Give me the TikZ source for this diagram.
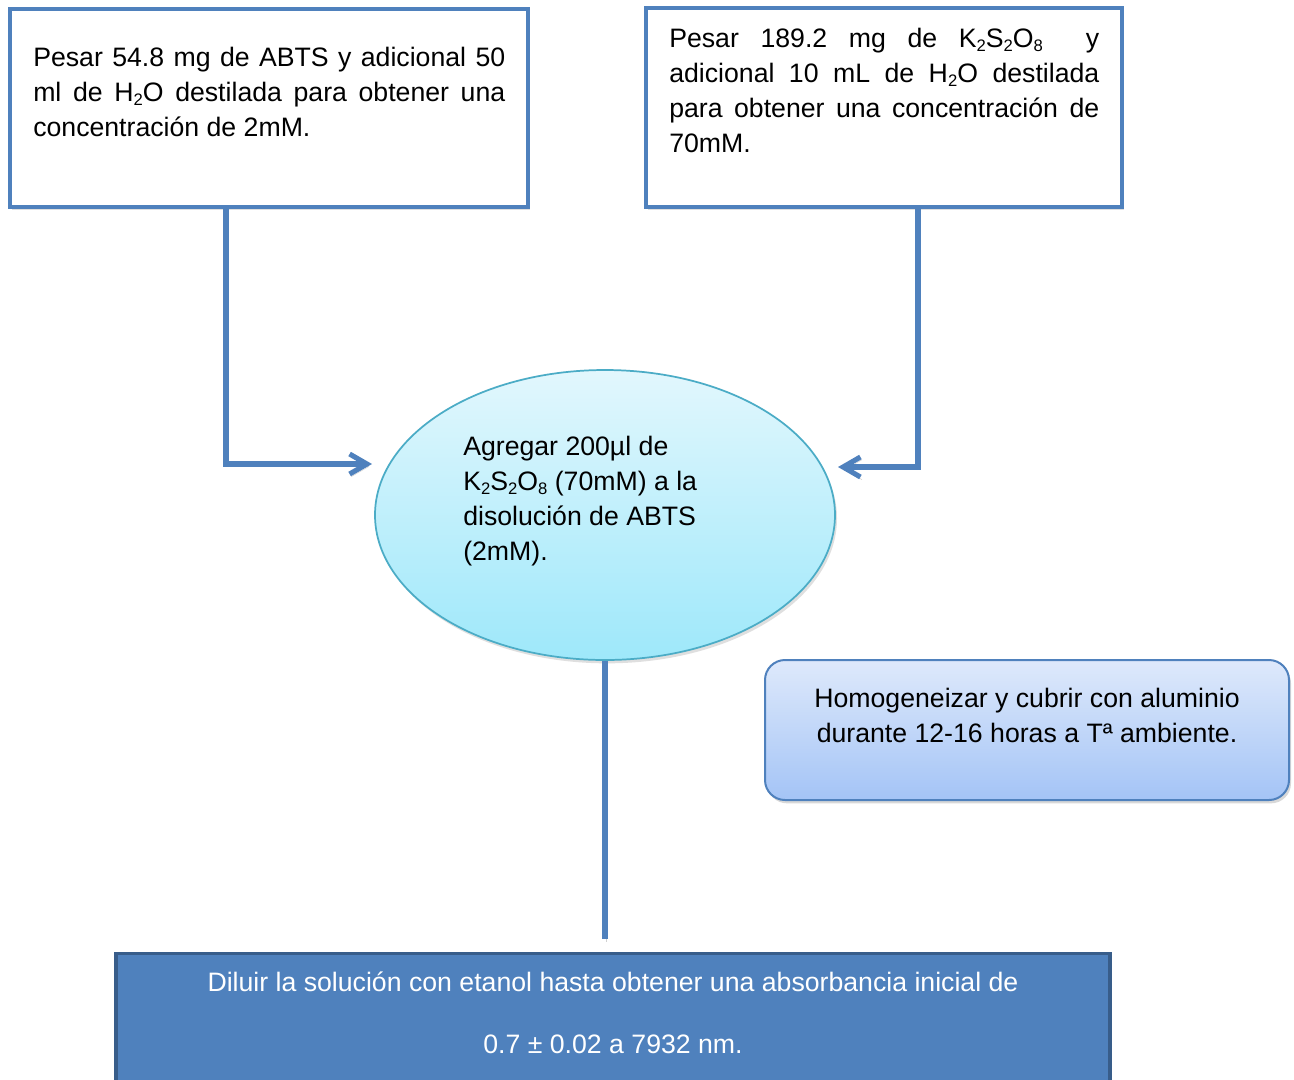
\documentclass[tikz,border=0pt]{standalone}
\usepackage{fontspec}
\setmainfont{Liberation Sans}
\usetikzlibrary{arrows.meta,shadows,calc,shapes.geometric}
\definecolor{bordblue}{RGB}{79,129,189}
\definecolor{darkblue}{RGB}{56,93,138}
\definecolor{teal}{RGB}{75,172,198}
\definecolor{elltop}{RGB}{226,247,253}
\definecolor{ellbot}{RGB}{158,232,250}
\definecolor{rrtop}{RGB}{222,233,251}
\definecolor{rrbot}{RGB}{164,196,246}
\newcommand{\mysub}[1]{\raisebox{-0.28ex}{\fontsize{12.5pt}{12.5pt}\selectfont #1}}
\tikzset{
  txt/.style={inner sep=0pt, font=\fontsize{20pt}{26.25pt}\selectfont},
  whitebox/.style={draw=bordblue, line width=3pt, fill=white, rectangle, inner sep=0pt,
    drop shadow={opacity=0.25, shadow xshift=1.5pt, shadow yshift=-2pt}},
  conn/.style={draw=bordblue, line width=3.8pt, line join=miter,
    -{Straight Barb[length=13pt,width=15pt]},
    preaction={draw=black, opacity=0.18, transform canvas={xshift=1.2pt,yshift=-2pt}}},
  plainline/.style={draw=bordblue, line width=3.8pt,
    preaction={draw=black, opacity=0.18, transform canvas={xshift=1.2pt,yshift=-2pt}}},
}
\begin{document}
\begin{tikzpicture}[x=0.75pt,y=-0.75pt]
\clip (0,0) rectangle (1294,1079);
\fill[white] (0,0) rectangle (1294,1079);

% Box A
\node[whitebox, minimum width=388.5pt, minimum height=148.5pt] (A) at (269,108) {};
\node[txt, anchor=north west, text width=354pt, align=justify] (At) at (33,46.5)
 {Pesar 54.8 mg de ABTS y adicional 50\linebreak ml de H\mysub{2}O destilada para obtener una\linebreak concentración de 2mM.};

% Box B
\node[whitebox, minimum width=357pt, minimum height=149.25pt] (B) at (884,107.5) {};
\node[txt, anchor=north west, text width=322.5pt, align=justify] (Bt) at (669,27.5)
 {Pesar 189.2 mg de K\mysub{2}S\mysub{2}O\mysub{8}\hspace{0.8em} y\linebreak adicional 10 mL de H\mysub{2}O destilada\linebreak para obtener una concentración de\linebreak 70mM.};

% Ellipse
\node[ellipse, draw=teal, line width=1.3pt, minimum width=345pt, minimum height=217.5pt,
  top color=elltop, bottom color=ellbot, inner sep=0pt,
  drop shadow={opacity=0.25, shadow xshift=1.5pt, shadow yshift=-2.5pt}] (E) at (605,515) {};
\node[txt, anchor=north west, align=left] (Et) at (463,436)
 {Agregar 200µl de\\ K\mysub{2}S\mysub{2}O\mysub{8} (70mM) a la\\ disolución de ABTS\\ (2mM).};

% Rounded rectangle
\node[rectangle, rounded corners=15pt, draw=bordblue, line width=1.5pt,
  minimum width=393pt, minimum height=105pt, top color=rrtop, bottom color=rrbot, inner sep=0pt,
  drop shadow={opacity=0.3, shadow xshift=1.5pt, shadow yshift=-2.5pt}] (R) at (1027,730) {};
\node[txt, anchor=north, align=center] (Rt) at (1027,688)
 {Homogeneizar y cubrir con aluminio\\ durante 12-16 horas a Tª ambiente.};

% Bottom box
\node[rectangle, draw=darkblue, fill=bordblue, line width=2.5pt, inner sep=0pt,
  minimum width=745.5pt, minimum height=117pt,
  drop shadow={opacity=0.25, shadow xshift=1.5pt, shadow yshift=-2pt}] (D) at (613,1031.5) {};
\node[txt, anchor=north, align=center, text=white, font=\fontsize{20pt}{46.5pt}\selectfont] (Dt) at (613,972)
 {Diluir la solución con etanol hasta obtener una absorbancia inicial de\\ 0.7 ± 0.02 a 7932 nm.};

% Connectors
\coordinate (tipL) at (372,464);
\coordinate (tipR) at (838,467);
\coordinate (dtop) at ([yshift=9.75pt]D.north);
\draw[conn] ([xshift=-32.25pt]A.south) |- (tipL);
\draw[conn] ([xshift=25.5pt]B.south) |- (tipR);
\draw[plainline] (E.south) -- (E.south |- dtop);
\end{tikzpicture}
\end{document}
